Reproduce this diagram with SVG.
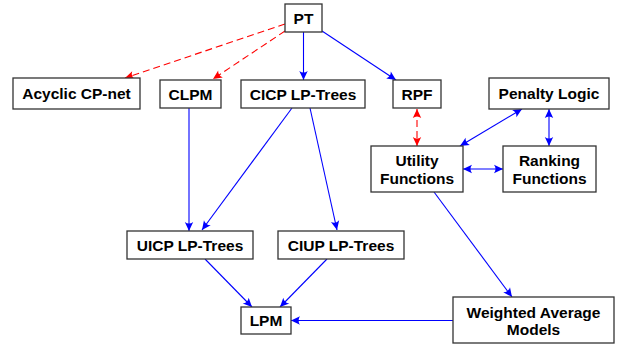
<svg xmlns="http://www.w3.org/2000/svg" width="620" height="348" viewBox="0 0 620 348">
  <style>
    .box { fill: #ffffff; stroke: #333333; stroke-width: 1.3; }
    .lbl { font-family: "Liberation Sans", Arial, sans-serif; font-size: 15.5px; font-weight: bold; fill: #000000; text-anchor: middle; }
    .blue { fill: none; stroke: #0000ff; stroke-width: 1.1; }
    .red { fill: none; stroke: #ff0000; stroke-width: 1.1; stroke-dasharray: 7 4; }
  </style>
  <defs>
    <marker id="arrow-blue" viewBox="0 0 10 10" refX="9.5" refY="5" markerWidth="10" markerHeight="10" markerUnits="userSpaceOnUse" orient="auto-start-reverse">
      <path d="M9.5,5 L0.5,0.8 Q3.5,5 0.5,9.2 Z" fill="#0000ff"/>
    </marker>
    <marker id="arrow-red" viewBox="0 0 10 10" refX="9.5" refY="5" markerWidth="10" markerHeight="10" markerUnits="userSpaceOnUse" orient="auto-start-reverse">
      <path d="M9.5,5 L0.5,0.8 Q3.5,5 0.5,9.2 Z" fill="#ff0000"/>
    </marker>
  </defs>

  <g id="connectors">
    <line class="red" x1="285" y1="24" x2="125" y2="78" marker-end="url(#arrow-red)"/>
    <line class="red" x1="285" y1="31" x2="213" y2="79" marker-end="url(#arrow-red)"/>
    <line class="blue" x1="303.5" y1="32" x2="303.5" y2="80" marker-end="url(#arrow-blue)"/>
    <line class="blue" x1="322" y1="31" x2="396" y2="80" marker-end="url(#arrow-blue)"/>
    <line class="red" x1="417" y1="109" x2="417" y2="146" marker-start="url(#arrow-red)" marker-end="url(#arrow-red)" stroke-dasharray="6 4"/>
    <line class="blue" x1="460" y1="146" x2="522" y2="109" marker-start="url(#arrow-blue)" marker-end="url(#arrow-blue)"/>
    <line class="blue" x1="549" y1="109" x2="549" y2="146" marker-start="url(#arrow-blue)" marker-end="url(#arrow-blue)"/>
    <line class="blue" x1="463" y1="169" x2="503" y2="169" marker-start="url(#arrow-blue)" marker-end="url(#arrow-blue)"/>
    <line class="blue" x1="434" y1="192" x2="512" y2="297" marker-end="url(#arrow-blue)"/>
    <line class="blue" x1="453" y1="320.5" x2="291" y2="320.5" marker-end="url(#arrow-blue)"/>
    <line class="blue" x1="189" y1="108" x2="189" y2="231" marker-end="url(#arrow-blue)"/>
    <line class="blue" x1="292" y1="108" x2="202" y2="230" marker-end="url(#arrow-blue)"/>
    <line class="blue" x1="310" y1="108" x2="337" y2="230" marker-end="url(#arrow-blue)"/>
    <line class="blue" x1="205" y1="259" x2="252" y2="307" marker-end="url(#arrow-blue)"/>
    <line class="blue" x1="327" y1="259" x2="280" y2="307" marker-end="url(#arrow-blue)"/>
  </g>

  <g id="pt">
    <rect class="box" x="285" y="4" width="37" height="28"/>
    <text class="lbl" x="303.5" y="23.5">PT</text>
  </g>
  <g id="acyclic-cp-net">
    <rect class="box" x="13" y="78" width="127" height="31"/>
    <text class="lbl" x="76.5" y="99">Acyclic CP-net</text>
  </g>
  <g id="clpm">
    <rect class="box" x="160" y="80" width="61" height="28"/>
    <text class="lbl" x="190.5" y="99.5">CLPM</text>
  </g>
  <g id="cicp-lp-trees">
    <rect class="box" x="241" y="80" width="124" height="28"/>
    <text class="lbl" x="303" y="99.5">CICP LP-Trees</text>
  </g>
  <g id="rpf">
    <rect class="box" x="393" y="80" width="48" height="28"/>
    <text class="lbl" x="417" y="99.5">RPF</text>
  </g>
  <g id="penalty-logic">
    <rect class="box" x="489" y="78" width="120" height="31"/>
    <text class="lbl" x="549" y="99">Penalty Logic</text>
  </g>
  <g id="utility-functions">
    <rect class="box" x="371" y="146" width="92" height="46"/>
    <text class="lbl" x="417" y="166">Utility</text>
    <text class="lbl" x="417" y="183.5">Functions</text>
  </g>
  <g id="ranking-functions">
    <rect class="box" x="503" y="146" width="93" height="46"/>
    <text class="lbl" x="549.5" y="166">Ranking</text>
    <text class="lbl" x="549.5" y="183.5">Functions</text>
  </g>
  <g id="uicp-lp-trees">
    <rect class="box" x="127" y="231" width="126" height="28"/>
    <text class="lbl" x="190" y="250.5">UICP LP-Trees</text>
  </g>
  <g id="ciup-lp-trees">
    <rect class="box" x="278" y="231" width="126" height="28"/>
    <text class="lbl" x="341" y="250.5">CIUP LP-Trees</text>
  </g>
  <g id="lpm">
    <rect class="box" x="241" y="307" width="50" height="27"/>
    <text class="lbl" x="266" y="326">LPM</text>
  </g>
  <g id="weighted-average-models">
    <rect class="box" x="453" y="297" width="161" height="46"/>
    <text class="lbl" x="533.5" y="317.5">Weighted Average</text>
    <text class="lbl" x="533.5" y="335">Models</text>
  </g>
</svg>
